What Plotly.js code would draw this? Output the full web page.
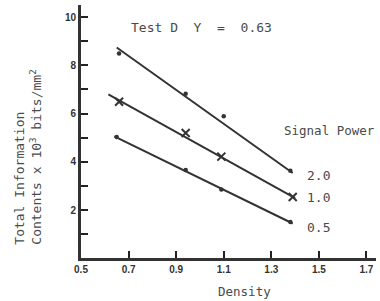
<!DOCTYPE html>
<html><head><meta charset="utf-8">
<script src="https://cdn.plot.ly/plotly-3.0.1.min.js"></script>
<style>html,body{margin:0;padding:0;background:#fff}#c{width:380px;height:301px}</style>
</head><body><div id="c"></div>
<script>
// Fitted lines (endpoints)
const line20X = [0.65, 1.39], line20Y = [8.74, 3.54];
const line10X = [0.615, 1.40], line10Y = [6.80, 2.50];
const line05X = [0.64, 1.39], line05Y = [5.06, 1.45];
// Measured points
const pts20X = [0.66, 0.94, 1.10, 1.38], pts20Y = [8.49, 6.82, 5.89, 3.63];
const pts10X = [0.66, 0.94, 1.09, 1.39], pts10Y = [6.49, 5.20, 4.22, 2.55];
const pts05X = [0.65, 0.94, 1.09, 1.38], pts05Y = [5.03, 3.67, 2.86, 1.51];
const seriesLabels = ['2.0', '1.0', '0.5'];
const xTickVals = [0.5, 0.7, 0.9, 1.1, 1.3, 1.5, 1.7];
const xTickText = ['0.5', '0.7', '0.9', '1.1', '1.3', '1.5', '1.7'];
const yMajorStep = 2, yMinorStep = 1;

const ink = '#333333';
const tickInk = '#222222';
const txt = '#4a4a4a';
const mono = 'DejaVu Sans Mono, monospace';
const lineStyle = {color: ink, width: 2};

const traces = [
  {x: line20X, y: line20Y, mode: 'lines', line: lineStyle},
  {x: line10X, y: line10Y, mode: 'lines', line: lineStyle},
  {x: line05X, y: line05Y, mode: 'lines', line: lineStyle},
  {x: pts20X, y: pts20Y, mode: 'markers', marker: {symbol: 'circle', size: 4.5, color: ink}},
  {x: pts10X, y: pts10Y, mode: 'markers', marker: {symbol: 'x-thin-open', size: 8, color: ink, line: {color: ink, width: 2}}},
  {x: pts05X, y: pts05Y, mode: 'markers', marker: {symbol: 'circle', size: 4.5, color: ink}},
  {x: [], y: [], yaxis: 'y2', mode: 'markers', hoverinfo: 'skip'}
];

const labelY = [3.44, 2.54, 1.30];
const annotations = seriesLabels.map((t, i) => ({
  x: 1.44, y: labelY[i], xref: 'x', yref: 'y', text: t, showarrow: false,
  xanchor: 'left', yanchor: 'middle', font: {family: mono, size: 13, color: txt}
}));
annotations.push(
  {x: 1.343, y: 5.31, xref: 'x', yref: 'y', text: 'Signal Power', showarrow: false,
   xanchor: 'left', yanchor: 'middle', font: {family: mono, size: 12.5, color: txt}},
  {x: 0.703, y: 9.58, xref: 'x', yref: 'y', text: 'Test D  Y  =  0.63', showarrow: false,
   xanchor: 'left', yanchor: 'middle', font: {family: mono, size: 13, color: txt}},
  {x: 1.188, y: -0.134, xref: 'x', yref: 'paper', text: 'Density', showarrow: false,
   xanchor: 'center', yanchor: 'middle', font: {family: mono, size: 12.5, color: txt}},
  {x: -0.18, y: 0.40, xref: 'paper', yref: 'paper',
   text: 'Total Information<br>Contents x 10<sup>3</sup> bits/mm<sup>2</sup>',
   showarrow: false, textangle: -90, align: 'left', xanchor: 'center', yanchor: 'middle',
   font: {family: mono, size: 13, color: txt}}
);

const tickFont = {family: 'Liberation Sans, Arial', size: 10, color: '#333', weight: 'bold'};
const yRange = [0.02, 10.5];
const layout = {
  width: 380, height: 301,
  margin: {l: 81, r: 4, t: 5, b: 43},
  paper_bgcolor: '#fff', plot_bgcolor: '#fff',
  showlegend: false,
  xaxis: {range: [0.5, 1.74], showgrid: false, zeroline: false, showline: true,
    linecolor: ink, linewidth: 3, ticks: 'inside', ticklen: 7, tickwidth: 2, tickcolor: tickInk,
    tickvals: xTickVals, ticktext: xTickText, tickfont: tickFont},
  yaxis: {range: yRange, showgrid: false, zeroline: false, showline: true,
    linecolor: ink, linewidth: 3, ticks: 'inside', ticklen: 7, tickwidth: 2, tickcolor: tickInk,
    tickmode: 'linear', tick0: 0, dtick: yMajorStep, tickfont: tickFont},
  yaxis2: {range: yRange, overlaying: 'y', side: 'left', showgrid: false, zeroline: false,
    showline: false, ticks: 'inside', ticklen: 7, tickwidth: 2, tickcolor: tickInk,
    tickmode: 'linear', tick0: 0, dtick: yMinorStep, showticklabels: false},
  annotations: annotations
};
Plotly.newPlot('c', traces, layout, {displayModeBar: false, staticPlot: true});
</script></body></html>
